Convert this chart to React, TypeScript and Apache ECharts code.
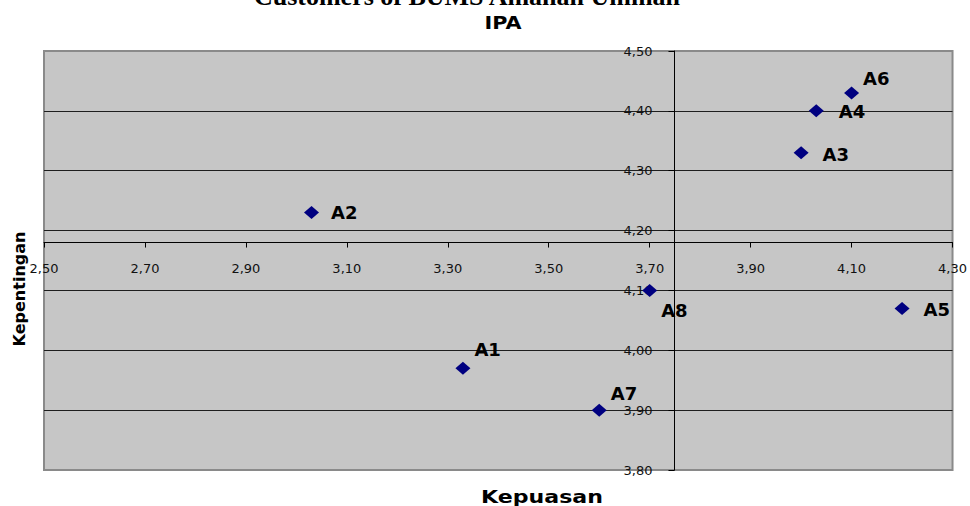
import React, { useEffect, useRef } from 'react';
import * as echarts from 'echarts';

// Attribute codes and IPA scores
const attributes = ['A1', 'A2', 'A3', 'A4', 'A5', 'A6', 'A7', 'A8'];
const kepuasan = [3.33, 3.03, 4.0, 4.03, 4.2, 4.1, 3.6, 3.7];
const kepentingan = [3.97, 4.23, 4.33, 4.4, 4.07, 4.43, 3.9, 4.1];

// Axis settings
const xMin = 2.5;
const xMax = 4.3;
const xInterval = 0.2;
const yMin = 3.8;
const yMax = 4.5;
const yInterval = 0.1;
const xCross = 3.75; // y axis crosses the x axis here
const yCross = 4.18; // x axis crosses the y axis here

const titleText = 'IPA';
const topText = 'Customers of BUMS Amanah Ummah';
const xName = 'Kepuasan';
const yName = 'Kepentingan';

// label placement per point (style only)
const labelOffsets: Record<string, [number, number]> = {
  A1: [-1, -19],
  A2: [7, 0],
  A3: [9, 2],
  A4: [10, 1],
  A5: [9, 1],
  A6: [-1, -14],
  A7: [-1, -17],
  A8: [-1, 20],
};

const fmt = (v: number) => v.toFixed(2).replace('.', ',');

export default function App() {
  const ref = useRef<HTMLDivElement>(null);

  useEffect(() => {
    if (!ref.current) return;
    const chart = echarts.init(ref.current, undefined, { renderer: 'svg' });

    const gridLeft = 44;
    const gridTop = 51;
    const gridWidth = 910;
    const gridHeight = 419;

    const xOffset = -(gridHeight * (yCross - yMin)) / (yMax - yMin);
    const yOffset = -(gridWidth * (xMax - xCross)) / (xMax - xMin);

    const nLines = Math.round((yMax - yMin) / yInterval) + 1;
    const splitColors = Array.from({ length: nLines }, (_, i) =>
      i === 0 || i === nLines - 1 ? '#8a8a8a' : '#1e1e1e'
    );

    const data = attributes.map((name, i) => ({
      name,
      value: [kepuasan[i], kepentingan[i]],
      label: { offset: labelOffsets[name] || [0, 0] },
    }));

    chart.setOption({
      animation: false,
      backgroundColor: '#ffffff',
      grid: {
        left: gridLeft,
        top: gridTop,
        width: gridWidth,
        height: gridHeight,
        show: true,
        backgroundColor: '#c6c6c6',
        borderColor: '#8a8a8a',
        borderWidth: 2,
      },
      xAxis: {
        type: 'value',
        min: xMin,
        max: xMax,
        interval: xInterval,
        position: 'bottom',
        offset: xOffset,
        axisLine: { show: true, onZero: false, lineStyle: { color: '#000', width: 1 } },
        axisTick: { show: true, length: 5, lineStyle: { color: '#000' } },
        axisLabel: {
          margin: 19,
          fontSize: 13,
          color: '#111',
          fontFamily: 'DejaVu Sans',
          formatter: (v: number) => fmt(v),
        },
        splitLine: { show: false },
      },
      yAxis: {
        type: 'value',
        min: yMin,
        max: yMax,
        interval: yInterval,
        position: 'right',
        offset: yOffset,
        axisLine: { show: true, onZero: false, lineStyle: { color: '#000', width: 1 } },
        axisTick: { show: true, inside: true, length: 6, lineStyle: { color: '#000' } },
        axisLabel: {
          inside: true,
          margin: 22,
          fontSize: 13,
          color: '#111',
          fontFamily: 'DejaVu Sans',
          padding: [0, 0, 6, 0],
          formatter: (v: number) => fmt(v),
        },
        splitLine: { show: true, lineStyle: { color: splitColors, width: 1 } },
      },
      series: [
        {
          type: 'scatter',
          symbol: 'diamond',
          symbolSize: [15, 13],
          itemStyle: { color: '#000080', opacity: 1 },
          label: {
            show: true,
            position: 'right',
            distance: 5,
            formatter: '{b}',
            fontFamily: 'DejaVu Sans',
            fontWeight: 'bold',
            fontSize: 18,
            color: '#000',
          },
          data,
          z: 5,
        },
      ],
      graphic: [
        {
          type: 'text',
          x: 467,
          y: 9,
          style: {
            text: topText,
            fontFamily: 'Liberation Serif',
            fontWeight: 'bold',
            fontSize: 26,
            fill: '#000',
            align: 'center',
            verticalAlign: 'bottom',
          },
        },
        {
          type: 'text',
          x: 503,
          y: 23,
          scaleX: 1.15,
          style: {
            text: titleText,
            fontFamily: 'DejaVu Sans',
            fontWeight: 'bold',
            fontSize: 18,
            fill: '#000',
            align: 'center',
            verticalAlign: 'middle',
          },
        },
        {
          type: 'text',
          x: 542,
          y: 497,
          scaleX: 1.3,
          style: {
            text: xName,
            fontFamily: 'DejaVu Sans',
            fontWeight: 'bold',
            fontSize: 17,
            fill: '#000',
            align: 'center',
            verticalAlign: 'middle',
          },
        },
        {
          type: 'text',
          x: 19,
          y: 289,
          rotation: Math.PI / 2,
          style: {
            text: yName,
            fontFamily: 'DejaVu Sans',
            fontWeight: 'bold',
            fontSize: 16,
            fill: '#000',
            align: 'center',
            verticalAlign: 'middle',
          },
        },
      ],
    });

    return () => chart.dispose();
  }, []);

  return (
    <div
      ref={ref}
      style={{ position: 'absolute', left: 0, top: 0, width: 970, height: 506 }}
    />
  );
}
